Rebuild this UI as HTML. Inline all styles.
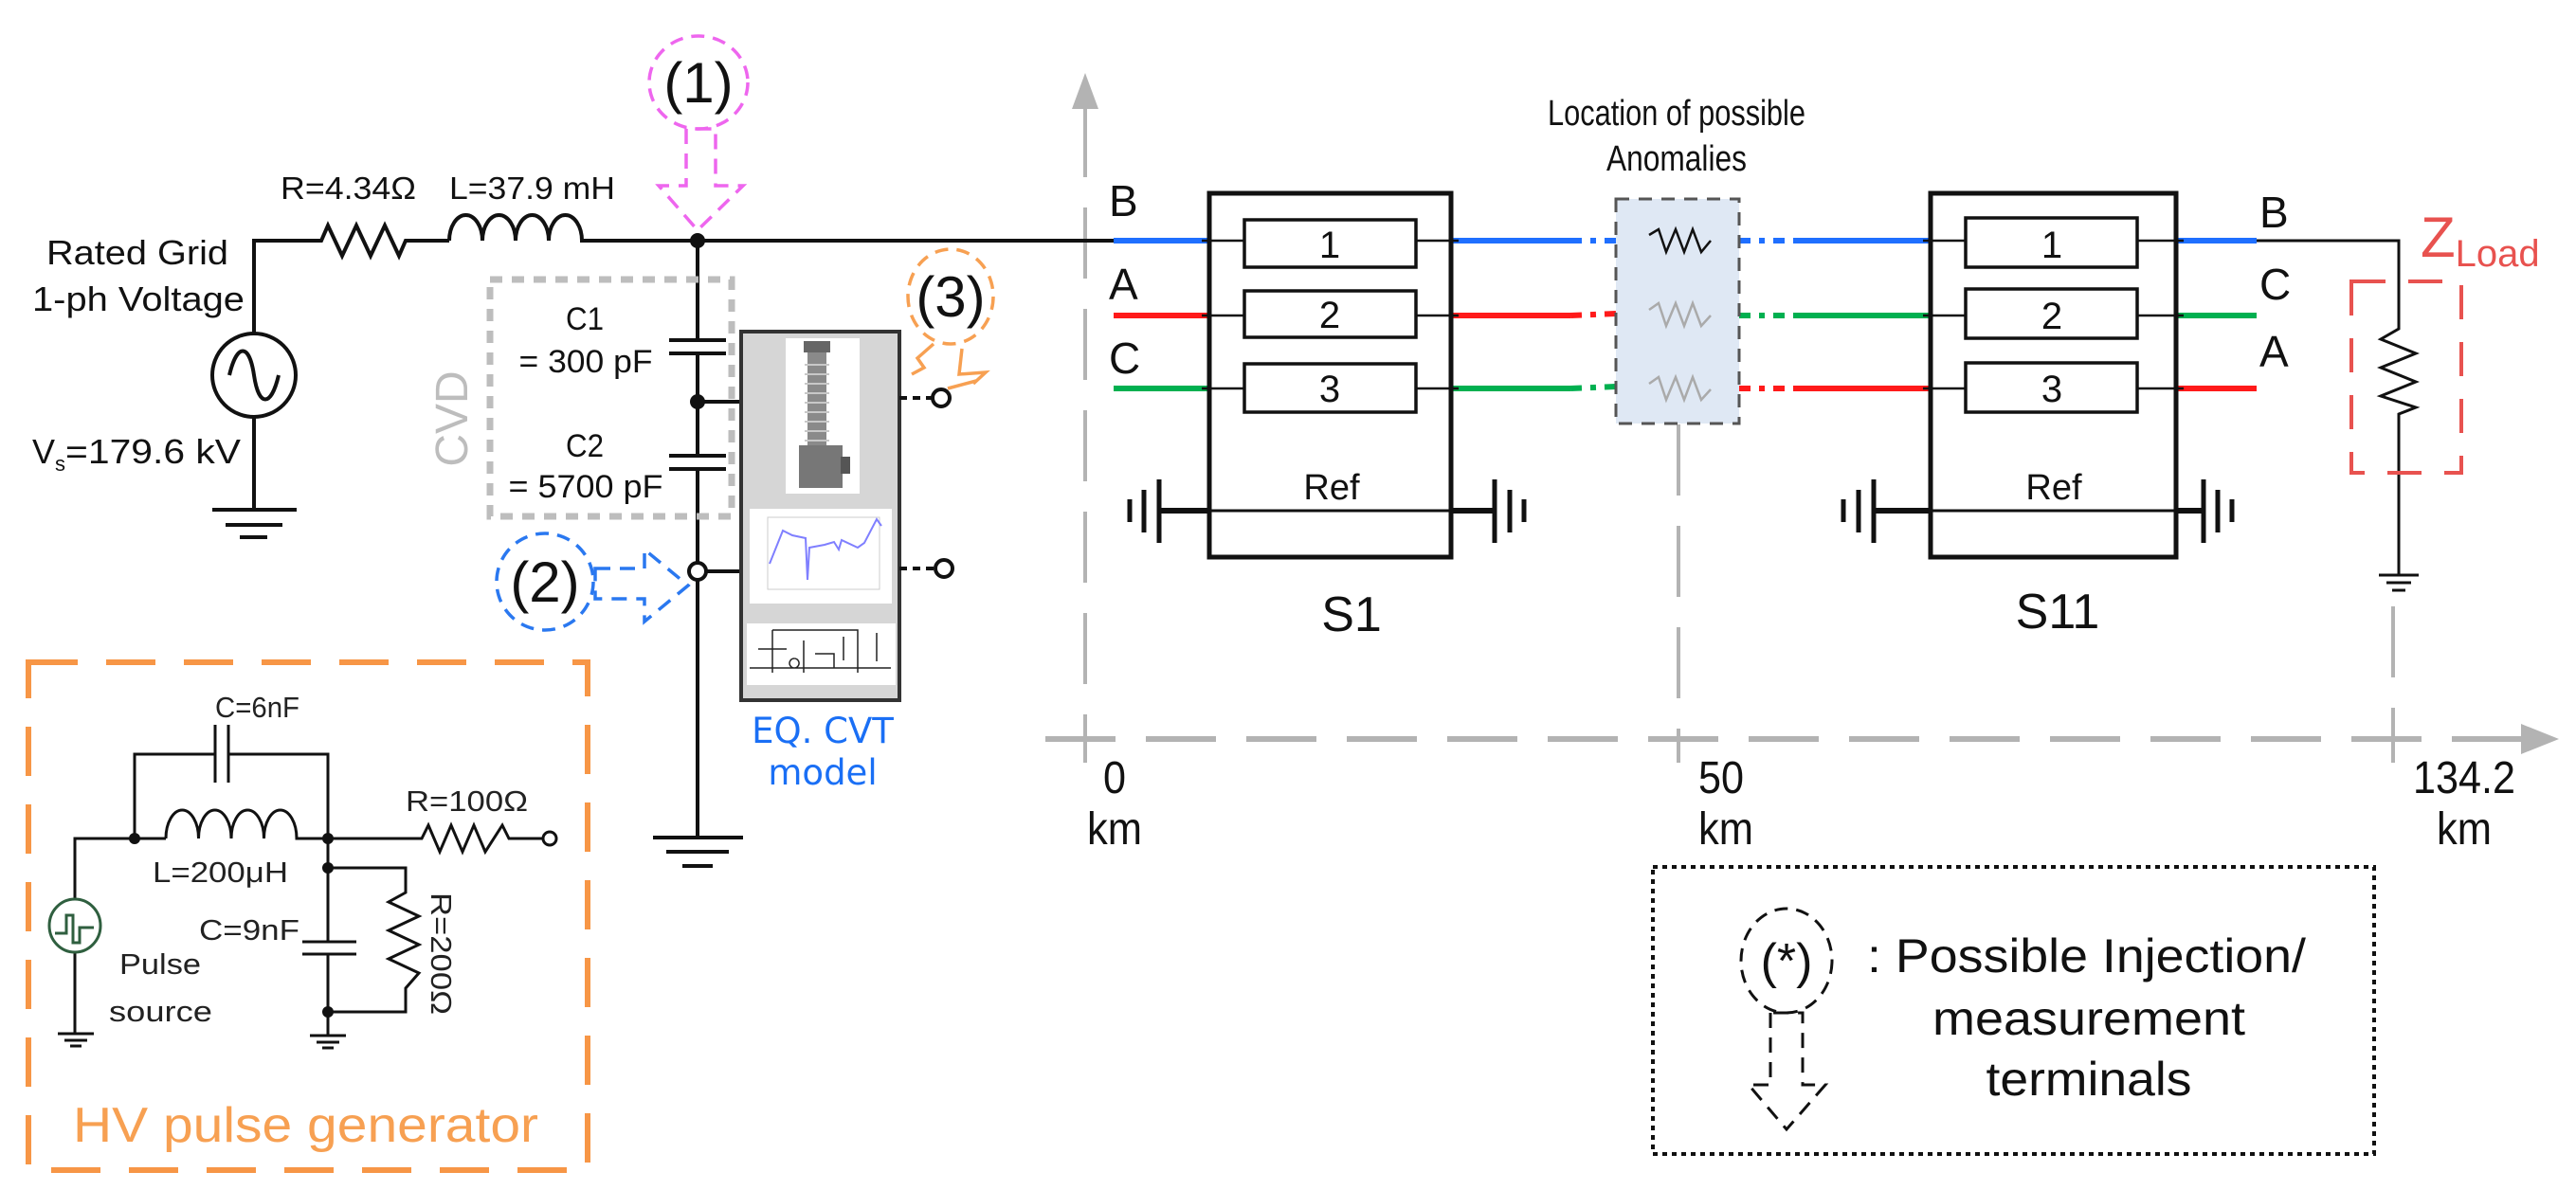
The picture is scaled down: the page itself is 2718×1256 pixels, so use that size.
<!DOCTYPE html>
<html><head><meta charset="utf-8"><style>html,body{margin:0;padding:0;background:#fff}svg{display:block}</style></head>
<body>
<svg width="2718" height="1256" viewBox="0 0 2718 1256" xmlns="http://www.w3.org/2000/svg" font-family="'Liberation Sans', sans-serif">
<rect width="2718" height="1256" fill="#fff"/>

<!-- axes -->
<g stroke="#b3b3b3" stroke-width="4" fill="none">
<line x1="1145" y1="112" x2="1145" y2="805" stroke-dasharray="75 32"/>
<line x1="1771" y1="448" x2="1771" y2="805" stroke-dasharray="75 32"/>
<line x1="2525" y1="640" x2="2525" y2="805" stroke-dasharray="75 32"/>
<line x1="1103" y1="780" x2="2662" y2="780" stroke-width="6" stroke-dasharray="74 32"/>
<line x1="1130" y1="780" x2="1160" y2="780" stroke-width="4"/>
</g>
<polygon points="1131,115 1145,77 1159,115" fill="#b3b3b3"/>
<polygon points="2660,764 2700,780 2660,796" fill="#b3b3b3"/>
<g font-size="48" text-anchor="middle" fill="#111">
<text x="1176" y="837" textLength="24" lengthAdjust="spacingAndGlyphs">0</text><text x="1176" y="891" textLength="58" lengthAdjust="spacingAndGlyphs">km</text>
<text x="1816" y="837" textLength="48" lengthAdjust="spacingAndGlyphs">50</text><text x="1821" y="891" textLength="58" lengthAdjust="spacingAndGlyphs">km</text>
<text x="2600" y="837" textLength="108" lengthAdjust="spacingAndGlyphs">134.2</text><text x="2600" y="891" textLength="58" lengthAdjust="spacingAndGlyphs">km</text>
</g>

<!-- left source -->
<g stroke="#111" stroke-width="4" fill="none">
<path d="M268,353 V254 H339 L346,238 L361,270 L376,238 L391,270 L406,238 L421,270 L428,254 H474"/>
<path d="M474,254 a17.5,27 0 0 1 35,0 a17.5,27 0 0 1 35,0 a17.5,27 0 0 1 35,0 a17.5,27 0 0 1 35,0 H1175"/>
<circle cx="268" cy="396" r="44"/>
<path d="M242,396 C250,362 263,362 268,396 S286,430 294,396"/>
<path d="M268,440 V538"/>
<path d="M224,538 H313 M238,554 H298 M253,567 H282"/>
<path d="M736,254 V359 M706,359 H766 M706,373 H766 M736,373 V481 M706,481 H766 M706,495 H766 M736,495 V884"/>
<path d="M689,884 H784 M703,899 H769 M720,914 H752"/>
<path d="M736,424 H782 M745,603 H782"/>
</g>
<circle cx="736" cy="254" r="8" fill="#111"/>
<circle cx="736" cy="424" r="8" fill="#111"/>
<circle cx="736" cy="603" r="9" fill="#fff" stroke="#111" stroke-width="4"/>
<g fill="#111" font-size="36">
<text x="49" y="279" textLength="192" lengthAdjust="spacingAndGlyphs">Rated Grid</text>
<text x="34" y="328" textLength="224" lengthAdjust="spacingAndGlyphs">1-ph Voltage</text>
<text x="34" y="489">V<tspan font-size="22" dy="8">s</tspan><tspan dy="-8" textLength="185" lengthAdjust="spacingAndGlyphs">=179.6 kV</tspan></text>
<text x="296" y="210" font-size="33" textLength="143" lengthAdjust="spacingAndGlyphs">R=4.34Ω</text>
<text x="474" y="210" font-size="33" textLength="175" lengthAdjust="spacingAndGlyphs">L=37.9 mH</text>
</g>
<g fill="#111" font-size="34" text-anchor="middle">
<text x="617" y="348" textLength="40" lengthAdjust="spacingAndGlyphs">C1</text>
<text x="618" y="393" textLength="141" lengthAdjust="spacingAndGlyphs">= 300 pF</text>
<text x="617" y="482" textLength="40" lengthAdjust="spacingAndGlyphs">C2</text>
<text x="618" y="525" textLength="163" lengthAdjust="spacingAndGlyphs">= 5700 pF</text>
</g>
<rect x="517" y="295" width="255" height="250" fill="none" stroke="#bdbdbd" stroke-width="7" stroke-dasharray="13 10"/>
<text x="0" y="0" transform="translate(493,442) rotate(-90)" font-size="48" fill="#bdbdbd" text-anchor="middle">CVD</text>

<!-- (1) -->
<ellipse cx="737" cy="87" rx="52" ry="49" fill="none" stroke="#ee66ee" stroke-width="3.5" stroke-dasharray="14 9"/>
<text x="737" y="108" font-size="60" text-anchor="middle" fill="#111">(1)</text>
<polygon points="724,136 724,196 695,196 736,243 784,196 755,196 755,136" fill="none" stroke="#ee66ee" stroke-width="3.5" stroke-dasharray="16 10"/>
<!-- (2) -->
<ellipse cx="575" cy="614" rx="51" ry="51" fill="none" stroke="#2a78f0" stroke-width="3.5" stroke-dasharray="14 9"/>
<text x="575" y="635" font-size="60" text-anchor="middle" fill="#111">(2)</text>
<polygon points="628,600 680,600 680,580 726,618 680,656 680,632 628,632" fill="none" stroke="#2a78f0" stroke-width="3.5" stroke-dasharray="16 10"/>
<!-- (3) -->
<ellipse cx="1003" cy="313" rx="45" ry="50" fill="none" stroke="#f7a052" stroke-width="3.5" stroke-dasharray="14 9"/>
<text x="1003" y="334" font-size="60" text-anchor="middle" fill="#111">(3)</text>
<path d="M985,363 L968,378 L975,388 L962,395 M1015,368 L1012,395 L1040,393 L1027,405 M1000,410 L1030,402" fill="none" stroke="#f7a052" stroke-width="3.5"/>

<!-- EQ CVT box -->
<rect x="782" y="350" width="167" height="389" fill="#d6d6d6" stroke="#333" stroke-width="4"/>
<rect x="829" y="357" width="78" height="164" fill="#fff"/>
<rect x="852" y="372" width="20" height="100" fill="#8a8a8a"/>
<g stroke="#c8c8c8" stroke-width="2"><path d="M849,385 H875 M849,395 H875 M849,405 H875 M849,415 H875 M849,425 H875 M849,435 H875 M849,445 H875 M849,455 H875 M849,465 H875"/></g>
<rect x="848" y="360" width="28" height="12" fill="#666"/>
<rect x="843" y="470" width="46" height="45" fill="#777"/>
<rect x="887" y="482" width="10" height="18" fill="#555"/>
<rect x="791" y="537" width="150" height="100" fill="#fff"/>
<rect x="810" y="546" width="118" height="76" fill="none" stroke="#ccc" stroke-width="1"/>
<polyline points="812,595 826,560 836,565 850,568 852,612 854,578 870,575 880,572 885,580 888,570 905,578 912,573 925,548 930,555" fill="none" stroke="#7f7fff" stroke-width="2"/>
<rect x="788" y="658" width="157" height="65" fill="#fff"/>
<g stroke="#222" stroke-width="1.5" fill="none"><path d="M815,665 H905 V710 M815,665 V710 M791,705 H940 M800,685 H830 M848,676 V710 M860,690 h20 v15 M890,672 v25 M925,668 v30 M838,695 a5,5 0 1 0 0.1,0"/></g>
<g stroke="#111" stroke-width="4" stroke-dasharray="8 6"><line x1="949" y1="420" x2="984" y2="420"/><line x1="949" y1="600" x2="986" y2="600"/></g>
<circle cx="993" cy="420" r="9" fill="#fff" stroke="#111" stroke-width="4"/>
<circle cx="996" cy="600" r="9" fill="#fff" stroke="#111" stroke-width="4"/>
<g font-family="'DejaVu Sans', sans-serif" font-size="37" fill="#1a6ff5" text-anchor="middle">
<text x="868" y="784">EQ. CVT</text><text x="868" y="828">model</text>
</g>

<!-- HV pulse generator -->
<rect x="30" y="699" width="590" height="536" fill="none" stroke="#f79646" stroke-width="6" stroke-dasharray="52 30"/>
<text x="77" y="1205" font-size="52" fill="#f7a052" textLength="491" lengthAdjust="spacingAndGlyphs">HV pulse generator</text>
<g stroke="#111" stroke-width="3" fill="none">
<path d="M79,949 V885 H175"/>
<path d="M142,885 V796 H227 M241,796 H346 V885"/>
<path d="M227,765 V826 M241,765 V826"/>
<path d="M175,885 a17.25,30 0 0 1 34.5,0 a17.25,30 0 0 1 34.5,0 a17.25,30 0 0 1 34.5,0 a17.25,30 0 0 1 34.5,0 H445 L452,871 L464,899 L476,871 L488,899 L500,871 L512,899 L530,871 L537,885 H573"/>
<path d="M346,885 V994 M319,994 H376 M319,1007 H376 M346,1007 V1093"/>
<path d="M346,916 H428 V942 L410,952 L442,967 L410,982 L442,997 L410,1012 L442,1027 L428,1043 V1068 H346"/>
<path d="M79,1005 V1091 M61,1091 H99 M68,1098 H92 M74,1104 H86"/>
<path d="M327,1093 H365 M334,1100 H358 M340,1106 H352"/>
</g>
<circle cx="580" cy="885" r="7" fill="#fff" stroke="#111" stroke-width="3"/>
<circle cx="142" cy="885" r="6" fill="#111"/><circle cx="346" cy="885" r="6" fill="#111"/>
<circle cx="346" cy="916" r="6" fill="#111"/><circle cx="346" cy="1068" r="6" fill="#111"/>
<ellipse cx="79" cy="977" rx="27" ry="28" fill="none" stroke="#2f5f3f" stroke-width="3"/>
<path d="M58,985 H70 V966 H77 V995 H84 V979 H99" fill="none" stroke="#2f5f3f" stroke-width="3"/>
<g fill="#222" font-size="31">
<text x="227" y="757" textLength="89" lengthAdjust="spacingAndGlyphs">C=6nF</text>
<text x="161" y="931" textLength="143" lengthAdjust="spacingAndGlyphs">L=200μH</text>
<text x="428" y="856" textLength="129" lengthAdjust="spacingAndGlyphs">R=100Ω</text>
<text x="210" y="992" textLength="106" lengthAdjust="spacingAndGlyphs">C=9nF</text>
<text x="126" y="1028" textLength="86" lengthAdjust="spacingAndGlyphs">Pulse</text>
<text x="115" y="1078" textLength="109" lengthAdjust="spacingAndGlyphs">source</text>
<text x="0" y="0" transform="translate(455,942) rotate(90)" textLength="129" lengthAdjust="spacingAndGlyphs">R=200Ω</text>
</g>

<!-- phase lines -->
<g stroke-width="6" fill="none" stroke-linecap="butt">
<line x1="1175" y1="254" x2="1276" y2="254" stroke="#1f6fff"/>
<line x1="1175" y1="333" x2="1276" y2="333" stroke="#ff1a1a"/>
<line x1="1175" y1="410" x2="1276" y2="410" stroke="#00b050"/>
<line x1="1531" y1="254" x2="1657" y2="254" stroke="#1f6fff"/>
<line x1="1531" y1="333" x2="1657" y2="333" stroke="#ff1a1a"/>
<line x1="1531" y1="410" x2="1657" y2="410" stroke="#00b050"/>
<line x1="1657" y1="254" x2="1705" y2="254" stroke="#1f6fff" stroke-dasharray="12 9 6 9"/>
<line x1="1657" y1="333" x2="1705" y2="331" stroke="#ff1a1a" stroke-dasharray="12 9 6 9"/>
<line x1="1657" y1="410" x2="1705" y2="408" stroke="#00b050" stroke-dasharray="12 9 6 9"/>
<line x1="1835" y1="254" x2="1897" y2="254" stroke="#1f6fff" stroke-dasharray="12 9 6 9"/>
<line x1="1835" y1="333" x2="1897" y2="333" stroke="#00b050" stroke-dasharray="12 9 6 9"/>
<line x1="1835" y1="410" x2="1897" y2="410" stroke="#ff1a1a" stroke-dasharray="12 9 6 9"/>
<line x1="1897" y1="254" x2="2037" y2="254" stroke="#1f6fff"/>
<line x1="1897" y1="333" x2="2037" y2="333" stroke="#00b050"/>
<line x1="1897" y1="410" x2="2037" y2="410" stroke="#ff1a1a"/>
<line x1="2296" y1="254" x2="2381" y2="254" stroke="#1f6fff"/>
<line x1="2296" y1="333" x2="2381" y2="333" stroke="#00b050"/>
<line x1="2296" y1="410" x2="2381" y2="410" stroke="#ff1a1a"/>
</g>
<g font-size="46" fill="#111">
<text x="1170" y="228">B</text><text x="1170" y="316">A</text><text x="1170" y="394">C</text>
<text x="2384" y="240">B</text><text x="2384" y="316">C</text><text x="2384" y="387">A</text>
</g>

<!-- S1 -->
<g fill="none" stroke="#111">
<rect x="1276" y="204" width="255" height="384" stroke-width="5"/>
<rect x="1313" y="232" width="181" height="50" stroke-width="3.5"/>
<rect x="1313" y="307" width="181" height="49" stroke-width="3.5"/>
<rect x="1313" y="384" width="181" height="51" stroke-width="3.5"/>
<path d="M1268,254 H1313 M1494,254 H1539 M1268,333 H1313 M1494,333 H1539 M1268,410 H1313 M1494,410 H1539" stroke-width="2.5"/>
<path d="M1276,539 H1531" stroke-width="3"/>
<path d="M1223,539 H1276 M1531,539 H1577" stroke-width="6"/>
<path d="M1223,506 V573 M1207,517 V562 M1192,527 V551 M1577,506 V573 M1593,517 V562 M1608,527 V551" stroke-width="5"/>
</g>
<g font-size="40" fill="#111" text-anchor="middle">
<text x="1403" y="272">1</text><text x="1403" y="346">2</text><text x="1403" y="424">3</text>
<text x="1405" y="527" font-size="38">Ref</text>
<text x="1426" y="666" font-size="52">S1</text>
</g>

<!-- S11 -->
<g fill="none" stroke="#111">
<rect x="2037" y="204" width="259" height="384" stroke-width="5"/>
<rect x="2074" y="230" width="181" height="52" stroke-width="3.5"/>
<rect x="2074" y="305" width="181" height="52" stroke-width="3.5"/>
<rect x="2074" y="383" width="181" height="52" stroke-width="3.5"/>
<path d="M2029,254 H2074 M2255,254 H2304 M2029,333 H2074 M2255,333 H2304 M2029,410 H2074 M2255,410 H2304" stroke-width="2.5"/>
<path d="M2037,539 H2296" stroke-width="3"/>
<path d="M1977,539 H2037 M2296,539 H2325" stroke-width="6"/>
<path d="M1977,506 V573 M1961,517 V562 M1945,527 V551 M2325,506 V573 M2340,517 V562 M2355,527 V551" stroke-width="5"/>
</g>
<g font-size="40" fill="#111" text-anchor="middle">
<text x="2165" y="272">1</text><text x="2165" y="347">2</text><text x="2165" y="424">3</text>
<text x="2167" y="527" font-size="38">Ref</text>
<text x="2171" y="663" font-size="52">S11</text>
</g>

<!-- load -->
<g stroke="#111" stroke-width="3" fill="none">
<path d="M2381,254 H2531 V347 L2512,358 L2549,373 L2512,388 L2549,403 L2512,418 L2549,430 L2531,437 V607"/>
<path d="M2510,607 H2552 M2518,615 H2544 M2524,623 H2538"/>
</g>
<rect x="2481" y="297" width="116" height="202" fill="none" stroke="#e8524f" stroke-width="4" stroke-dasharray="36 24"/>
<text x="2554" y="271" font-size="60" fill="#e8524f">Z<tspan font-size="40" dy="10">Load</tspan></text>

<!-- anomaly -->
<rect x="1705" y="210" width="130" height="237" fill="#dfe8f4" stroke="#555" stroke-width="3" stroke-dasharray="14 10"/>
<polyline points="1740,248 1750,242 1758,266 1768,242 1777,266 1786,242 1795,266 1805,254" fill="none" stroke="#111" stroke-width="2.5"/>
<polyline points="1740,327 1750,320 1758,344 1768,320 1777,344 1786,320 1795,344 1805,333" fill="none" stroke="#aaa" stroke-width="2.5"/>
<polyline points="1740,405 1750,398 1758,422 1768,398 1777,422 1786,398 1795,422 1805,411" fill="none" stroke="#aaa" stroke-width="2.5"/>
<g font-size="38" fill="#111" text-anchor="middle">
<text x="1769" y="132" textLength="272" lengthAdjust="spacingAndGlyphs">Location of possible</text>
<text x="1769" y="180" textLength="148" lengthAdjust="spacingAndGlyphs">Anomalies</text>
</g>

<!-- legend -->
<rect x="1744" y="915" width="761" height="303" fill="none" stroke="#111" stroke-width="4" stroke-dasharray="5 5"/>
<ellipse cx="1885" cy="1014" rx="48" ry="55" fill="none" stroke="#111" stroke-width="3" stroke-dasharray="14 9"/>
<text x="1885" y="1032" font-size="52" text-anchor="middle" fill="#111">(*)</text>
<polygon points="1868,1069 1868,1145 1845,1145 1885,1192 1926,1145 1902,1145 1902,1069" fill="none" stroke="#111" stroke-width="3" stroke-dasharray="16 10"/>
<g font-size="50" fill="#111">
<text x="1970" y="1026" textLength="463" lengthAdjust="spacingAndGlyphs">: Possible Injection/</text>
<text x="2204" y="1092" text-anchor="middle" textLength="330" lengthAdjust="spacingAndGlyphs">measurement</text>
<text x="2204" y="1156" text-anchor="middle" textLength="217" lengthAdjust="spacingAndGlyphs">terminals</text>
</g>
</svg>
</body></html>
